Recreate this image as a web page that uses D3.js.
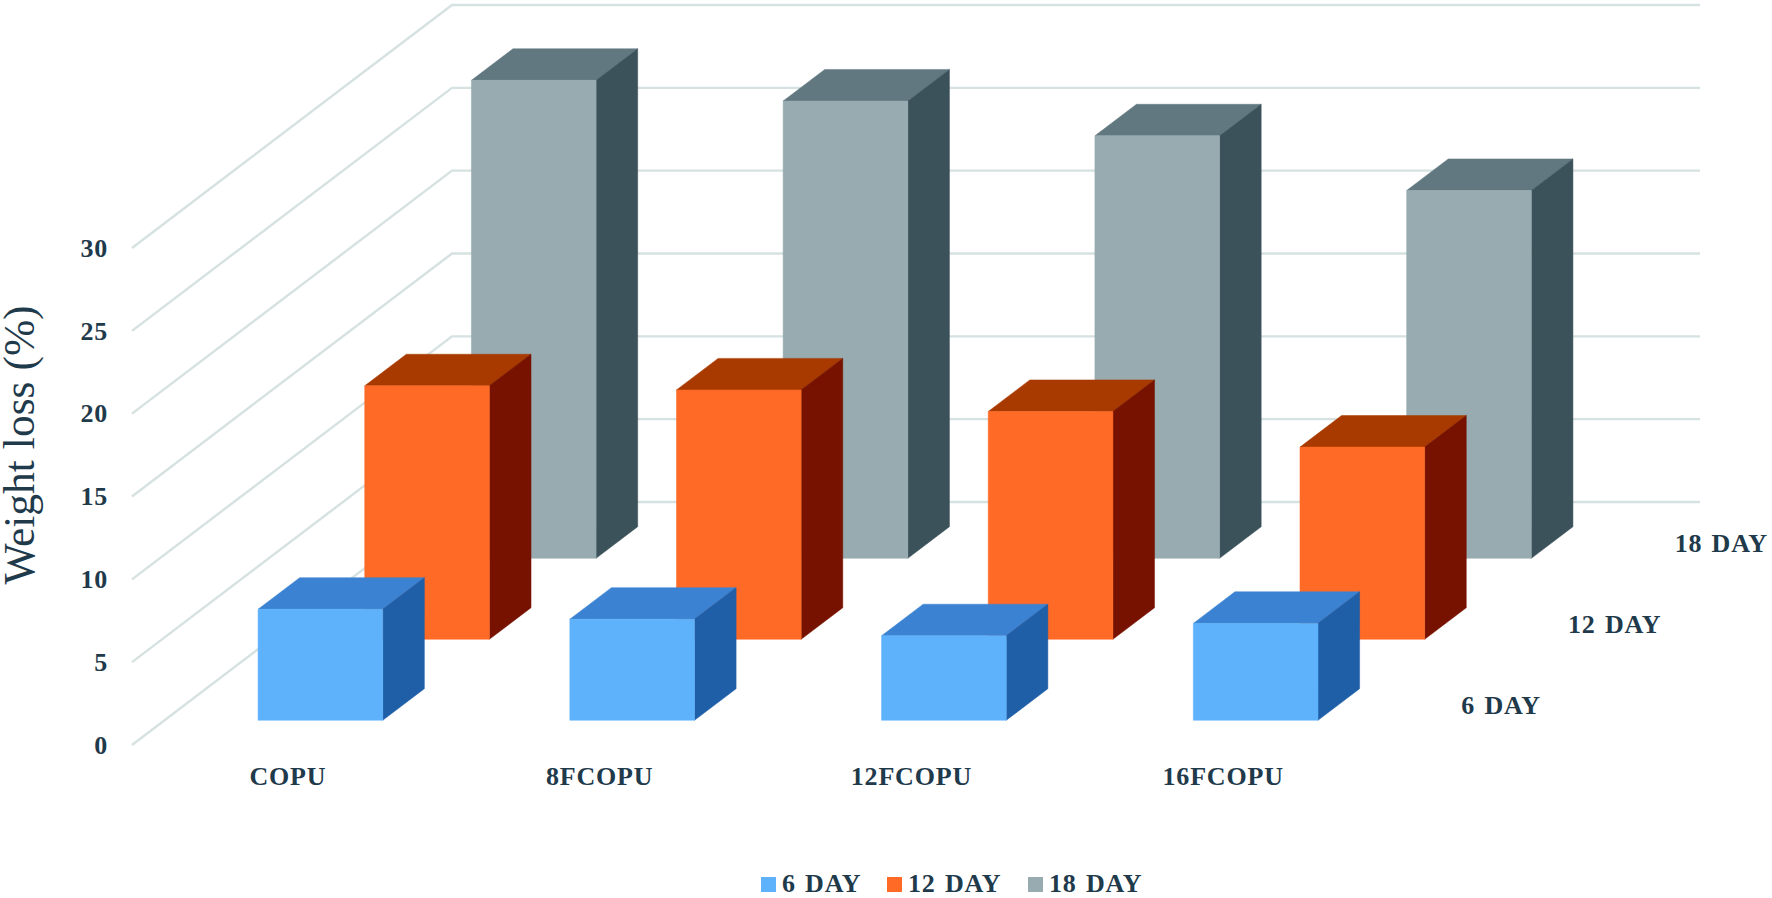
<!DOCTYPE html>
<html>
<head>
<meta charset="utf-8">
<script src="https://cdn.jsdelivr.net/npm/d3@7"></script>
<style>
    body { margin: 0; background: #fff; }
    text { font-family: "Liberation Serif", serif; fill: #1f3a4b; }
    .lab text, text.lab { font-size: 26px; font-weight: bold; letter-spacing: 0.8px; word-spacing: 2px; }
</style>
</head>
<body>
<div id="canvas"></div>
<script>
const categories = ["COPU", "8FCOPU", "12FCOPU", "16FCOPU"];
const series = ["6 DAY", "12 DAY", "18 DAY"];
const day6 = [6.7, 6.1, 5.1, 5.85];
const day12 = [15.3, 15.05, 13.75, 11.6];
const day18 = [28.85, 27.6, 25.5, 22.2];
const yTicks = [0, 5, 10, 15, 20, 25, 30];

const faceColors = [
    { front: "#5eb2fb", top: "#3b83d2", side: "#1f5fa8" },
    { front: "#ff6a26", top: "#a83a00", side: "#771200" },
    { front: "#97abb0", top: "#627880", side: "#3c525b" }
];
const values = [day6, day12, day18];

const width = 1772, height = 898;
// depth of the floor, in pixels, from the front edge to the back wall
const depthX = 320, depthY = 243;

const svg = d3.select("#canvas").append("svg")
    .attr("width", width)
    .attr("height", height);

const x = d3.scaleBand().domain(categories).range([132, 1379]).paddingInner(0.6).paddingOuter(0.3);
const y = d3.scaleLinear().domain([0, 30]).range([745, 248]);
const z = d3.scaleBand().domain(series).range([0, 1]).paddingInner(0.61).paddingOuter(0.305);

// oblique projection: px on the x scale, py on the y scale, d from 0 (front) to 1 (back)
const pt = (px, py, d) => [px + d * depthX, py - d * depthY];
const poly = pts => pts.map(p => p.join(",")).join(" ");

// gridlines
const line = d3.line();
svg.append("g").selectAll("path")
    .data(yTicks)
    .enter()
    .append("path")
    .attr("d", t => line([pt(132, y(t), 0), pt(132, y(t), 1), pt(1380, y(t), 1)]))
    .attr("fill", "none")
    .attr("stroke", "#d6e1e1")
    .attr("stroke-width", 2.4);

// back row first so the front rows sit on top
const bars = svg.append("g");
d3.range(series.length - 1, -1, -1).forEach(s => {
    const d0 = z(series[s]), d1 = d0 + z.bandwidth();
    const c = faceColors[s];
    categories.forEach((cat, i) => {
        const l = x(cat), r = l + x.bandwidth();
        const b = y(0), t = y(values[s][i]);
        const g = bars.append("g");
        g.append("polygon")
            .attr("points", poly([pt(l, t, d0), pt(r, t, d0), pt(r, t, d1), pt(l, t, d1)]))
            .attr("fill", c.top).attr("stroke", c.top).attr("stroke-width", 0.5);
        g.append("polygon")
            .attr("points", poly([pt(r, t, d0), pt(r, b, d0), pt(r, b, d1), pt(r, t, d1)]))
            .attr("fill", c.side).attr("stroke", c.side).attr("stroke-width", 0.5);
        g.append("polygon")
            .attr("points", poly([pt(l, t, d0), pt(r, t, d0), pt(r, b, d0), pt(l, b, d0)]))
            .attr("fill", c.front).attr("stroke", c.front).attr("stroke-width", 0.5);
    });
});

// axes
const yAxis = svg.append("g").attr("class", "lab")
    .attr("transform", "translate(132,0)")
    .call(d3.axisLeft(y).tickValues(yTicks).tickSize(0).tickPadding(24));
yAxis.select(".domain").remove();
yAxis.selectAll("text").attr("fill", "#1f3a4b").style("font-family", "Liberation Serif");

const xAxis = svg.append("g").attr("class", "lab")
    .attr("transform", "translate(0,745)")
    .call(d3.axisBottom(x).tickSize(0).tickPadding(22));
xAxis.select(".domain").remove();
xAxis.selectAll("text").attr("fill", "#1f3a4b").style("font-family", "Liberation Serif");

// series names along the depth axis
svg.append("g").selectAll("text")
    .data(series)
    .enter()
    .append("text")
    .attr("class", "lab")
    .attr("x", s => pt(1380, y(0), z(s) + z.bandwidth() / 2)[0] + 28)
    .attr("y", s => pt(1380, y(0), z(s) + z.bandwidth() / 2)[1])
    .attr("dy", "0.35em")
    .text(s => s);

// y title
svg.append("text")
    .attr("transform", "translate(34,445) rotate(-90)")
    .attr("text-anchor", "middle")
    .style("font-size", "43.5px")
    .text("Weight loss (%)");

// legend
const legendX = [761, 887, 1028];
const legend = svg.append("g").selectAll("g")
    .data(series)
    .enter()
    .append("g")
    .attr("transform", (s, i) => "translate(" + legendX[i] + ",885)");
legend.append("rect")
    .attr("x", 0).attr("y", -8)
    .attr("width", 15).attr("height", 15)
    .attr("fill", (s, i) => faceColors[i].front);
legend.append("text")
    .attr("class", "lab")
    .attr("x", 21)
    .attr("y", -2)
    .attr("dy", "0.35em")
    .text(s => s);
</script>
</body>
</html>
